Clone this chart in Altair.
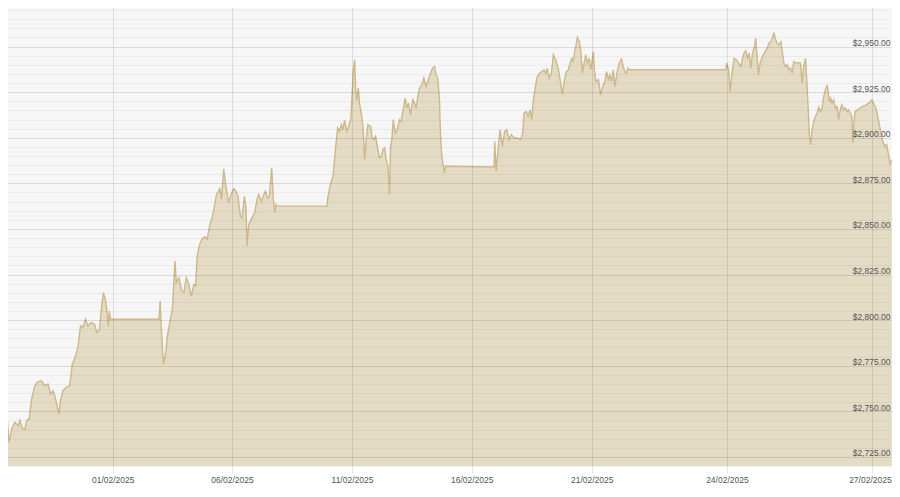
import altair as alt
import pandas as pd

# ---- data (gold price, USD/oz), times in UTC ----
times = [
    # Jan 27
    "2025-01-27T09:40", "2025-01-27T11:40", "2025-01-27T13:25", "2025-01-27T15:40", "2025-01-27T18:25", "2025-01-27T21:40",
    # Jan 28
    "2025-01-28T01:00", "2025-01-28T02:40", "2025-01-28T05:00", "2025-01-28T07:40", "2025-01-28T09:25", "2025-01-28T12:00",
    "2025-01-28T14:25", "2025-01-28T17:40", "2025-01-28T20:00",
    # Jan 29
    "2025-01-29T00:25", "2025-01-29T03:40", "2025-01-29T07:00", "2025-01-29T09:25", "2025-01-29T12:00", "2025-01-29T13:40",
    "2025-01-29T16:00", "2025-01-29T18:00", "2025-01-29T19:25", "2025-01-29T22:00",
    # Jan 30
    "2025-01-30T01:25", "2025-01-30T04:40", "2025-01-30T07:25", "2025-01-30T09:40", "2025-01-30T13:00", "2025-01-30T15:40",
    "2025-01-30T18:00", "2025-01-30T20:40", "2025-01-30T23:00",
    # Jan 31
    "2025-01-31T02:25", "2025-01-31T05:40", "2025-01-31T08:00", "2025-01-31T10:40", "2025-01-31T12:25", "2025-01-31T14:40",
    "2025-01-31T16:40", "2025-01-31T18:00", "2025-01-31T19:40", "2025-01-31T20:40", "2025-01-31T21:40",
    # Feb 2
    "2025-02-02T22:40", "2025-02-02T23:40",
    # Feb 3
    "2025-02-03T01:00", "2025-02-03T03:00", "2025-02-03T05:25", "2025-02-03T07:00", "2025-02-03T09:25", "2025-02-03T12:00",
    "2025-02-03T14:40", "2025-02-03T16:00", "2025-02-03T18:40", "2025-02-03T21:25", "2025-02-03T23:40",
    # Feb 4
    "2025-02-04T02:00", "2025-02-04T04:40", "2025-02-04T07:00", "2025-02-04T09:40", "2025-02-04T11:25", "2025-02-04T13:00",
    "2025-02-04T15:25", "2025-02-04T18:00", "2025-02-04T20:40", "2025-02-04T23:00",
    # Feb 5
    "2025-02-05T01:25", "2025-02-05T04:00", "2025-02-05T06:00", "2025-02-05T08:25", "2025-02-05T10:40", "2025-02-05T11:40",
    "2025-02-05T13:25", "2025-02-05T15:40", "2025-02-05T17:25", "2025-02-05T19:00", "2025-02-05T20:40", "2025-02-05T23:00",
    # Feb 6
    "2025-02-06T01:40", "2025-02-06T04:00", "2025-02-06T06:00", "2025-02-06T08:25", "2025-02-06T10:00", "2025-02-06T12:25",
    "2025-02-06T14:00", "2025-02-06T15:00", "2025-02-06T16:40", "2025-02-06T20:00", "2025-02-06T22:40",
    # Feb 7
    "2025-02-07T01:00", "2025-02-07T02:40", "2025-02-07T05:25", "2025-02-07T07:00", "2025-02-07T09:25", "2025-02-07T11:40",
    "2025-02-07T13:25", "2025-02-07T15:40", "2025-02-07T17:25", "2025-02-07T18:40", "2025-02-07T20:00", "2025-02-07T21:00",
    # Feb 9
    "2025-02-09T23:00",
    # Feb 10
    "2025-02-10T00:00", "2025-02-10T02:25", "2025-02-10T05:00", "2025-02-10T07:25", "2025-02-10T09:40", "2025-02-10T11:25",
    "2025-02-10T13:25", "2025-02-10T14:40", "2025-02-10T16:40", "2025-02-10T18:40", "2025-02-10T20:40", "2025-02-10T23:00",
    # Feb 11
    "2025-02-11T00:00", "2025-02-11T01:20", "2025-02-11T02:40", "2025-02-11T03:40", "2025-02-11T05:00", "2025-02-11T06:20",
    "2025-02-11T07:40", "2025-02-11T09:20", "2025-02-11T11:00", "2025-02-11T12:40", "2025-02-11T14:20", "2025-02-11T16:00",
    "2025-02-11T18:40", "2025-02-11T20:20", "2025-02-11T22:00", "2025-02-11T23:40",
    # Feb 12
    "2025-02-12T01:20", "2025-02-12T03:40", "2025-02-12T05:20", "2025-02-12T07:00", "2025-02-12T08:40", "2025-02-12T10:20",
    "2025-02-12T12:00", "2025-02-12T13:40", "2025-02-12T14:40", "2025-02-12T16:00", "2025-02-12T17:20", "2025-02-12T19:20",
    "2025-02-12T21:20", "2025-02-12T23:40",
    # Feb 13
    "2025-02-13T01:20", "2025-02-13T03:00", "2025-02-13T05:20", "2025-02-13T07:00", "2025-02-13T08:40", "2025-02-13T10:40",
    "2025-02-13T13:00", "2025-02-13T14:40", "2025-02-13T16:20", "2025-02-13T18:00", "2025-02-13T19:40", "2025-02-13T22:00",
    # Feb 14
    "2025-02-14T00:00", "2025-02-14T02:20", "2025-02-14T04:00", "2025-02-14T05:40", "2025-02-14T07:20", "2025-02-14T09:00",
    "2025-02-14T10:40", "2025-02-14T12:20", "2025-02-14T14:00", "2025-02-14T15:40", "2025-02-14T16:40", "2025-02-14T18:00",
    "2025-02-14T19:20", "2025-02-14T20:40", "2025-02-14T21:40",
    # Feb 16
    "2025-02-16T22:25", "2025-02-16T23:00",
    # Feb 17
    "2025-02-17T00:25", "2025-02-17T02:40", "2025-02-17T04:25", "2025-02-17T06:40", "2025-02-17T09:00", "2025-02-17T11:00",
    "2025-02-17T13:25", "2025-02-17T15:40", "2025-02-17T18:25", "2025-02-17T21:40",
    # Feb 18
    "2025-02-18T01:00", "2025-02-18T03:00", "2025-02-18T04:25", "2025-02-18T06:40", "2025-02-18T08:25", "2025-02-18T10:25",
    "2025-02-18T12:00", "2025-02-18T13:40", "2025-02-18T16:00", "2025-02-18T17:40", "2025-02-18T20:00", "2025-02-18T22:00",
    # Feb 19
    "2025-02-19T00:25", "2025-02-19T02:00", "2025-02-19T03:40", "2025-02-19T05:25", "2025-02-19T07:40", "2025-02-19T09:40",
    "2025-02-19T12:00", "2025-02-19T14:25", "2025-02-19T16:25", "2025-02-19T18:40", "2025-02-19T20:25", "2025-02-19T22:40",
    # Feb 20
    "2025-02-20T00:40", "2025-02-20T02:25", "2025-02-20T04:00", "2025-02-20T05:40", "2025-02-20T07:00", "2025-02-20T08:25",
    "2025-02-20T09:40", "2025-02-20T11:40", "2025-02-20T13:00", "2025-02-20T14:40", "2025-02-20T16:25", "2025-02-20T18:00",
    "2025-02-20T19:40", "2025-02-20T21:25", "2025-02-20T23:00",
    # Feb 21
    "2025-02-21T00:00", "2025-02-21T00:55", "2025-02-21T01:25", "2025-02-21T02:15", "2025-02-21T03:35", "2025-02-21T04:45",
    "2025-02-21T05:50", "2025-02-21T07:00", "2025-02-21T07:55", "2025-02-21T08:50", "2025-02-21T09:40", "2025-02-21T10:35",
    "2025-02-21T11:30", "2025-02-21T12:20", "2025-02-21T13:35", "2025-02-21T14:40", "2025-02-21T15:55", "2025-02-21T16:45",
    "2025-02-21T17:40", "2025-02-21T18:30", "2025-02-21T19:15", "2025-02-21T19:50",
    # Feb 23
    "2025-02-23T23:30", "2025-02-23T23:50",
    # Feb 24
    "2025-02-24T00:50", "2025-02-24T01:35", "2025-02-24T02:30", "2025-02-24T03:35", "2025-02-24T04:45", "2025-02-24T05:45",
    "2025-02-24T06:55", "2025-02-24T07:45", "2025-02-24T08:30", "2025-02-24T09:20", "2025-02-24T10:10", "2025-02-24T11:00",
    "2025-02-24T11:50", "2025-02-24T12:40", "2025-02-24T13:40", "2025-02-24T14:15", "2025-02-24T14:45", "2025-02-24T15:35",
    "2025-02-24T16:25", "2025-02-24T17:35", "2025-02-24T18:50", "2025-02-24T20:00", "2025-02-24T20:50", "2025-02-24T21:40",
    "2025-02-24T22:30", "2025-02-24T23:15",
    # Feb 25
    "2025-02-25T00:05", "2025-02-25T00:55", "2025-02-25T01:45", "2025-02-25T02:45", "2025-02-25T03:25", "2025-02-25T04:10",
    "2025-02-25T05:00", "2025-02-25T05:50", "2025-02-25T06:40", "2025-02-25T07:30", "2025-02-25T08:20", "2025-02-25T09:05",
    "2025-02-25T10:00", "2025-02-25T11:15", "2025-02-25T12:25", "2025-02-25T13:15", "2025-02-25T14:00", "2025-02-25T14:55",
    "2025-02-25T15:30", "2025-02-25T16:15", "2025-02-25T16:50", "2025-02-25T17:30", "2025-02-25T18:10", "2025-02-25T19:00",
    "2025-02-25T19:50", "2025-02-25T20:40", "2025-02-25T21:25", "2025-02-25T22:15", "2025-02-25T23:05", "2025-02-25T23:55",
    # Feb 26
    "2025-02-26T00:45", "2025-02-26T01:35", "2025-02-26T02:05", "2025-02-26T02:40", "2025-02-26T03:20", "2025-02-26T04:00",
    "2025-02-26T04:50", "2025-02-26T05:40", "2025-02-26T06:30", "2025-02-26T07:15", "2025-02-26T08:05", "2025-02-26T08:55",
    "2025-02-26T09:45", "2025-02-26T10:35", "2025-02-26T11:25", "2025-02-26T12:10", "2025-02-26T13:00", "2025-02-26T13:50",
    "2025-02-26T14:20", "2025-02-26T15:00", "2025-02-26T15:30", "2025-02-26T16:50", "2025-02-26T17:55", "2025-02-26T19:15",
    "2025-02-26T20:25", "2025-02-26T21:45", "2025-02-26T22:50", "2025-02-26T23:40",
    # Feb 27
    "2025-02-27T00:30", "2025-02-27T01:20", "2025-02-27T02:10", "2025-02-27T02:55", "2025-02-27T03:45", "2025-02-27T04:40",
    "2025-02-27T05:25", "2025-02-27T06:15", "2025-02-27T07:05", "2025-02-27T07:50", "2025-02-27T08:45", "2025-02-27T09:35",
]

prices = [
    # Jan 27
    2771.3, 2762.0, 2749.5, 2733.0, 2740.3, 2744.0,
    # Jan 28
    2742.0, 2745.0, 2741.0, 2740.0, 2745.0, 2745.8, 2756.7, 2764.0, 2765.9,
    # Jan 29
    2766.7, 2764.0, 2765.0, 2759.5, 2761.3, 2758.5, 2753.4, 2748.5, 2755.8, 2761.3,
    # Jan 30
    2763.2, 2764.0, 2775.9, 2778.6, 2785.0, 2796.8, 2796.0, 2800.5, 2796.8,
    # Jan 31
    2798.7, 2797.8, 2793.2, 2795.0, 2805.0, 2815.0, 2811.4, 2806.0, 2796.8, 2805.0, 2800.5,
    # Feb 2
    2800.5, 2810.5,
    # Feb 3
    2795.0, 2775.9, 2782.3, 2791.4, 2798.7, 2806.0, 2832.4, 2820.6, 2823.3, 2816.0, 2815.5,
    # Feb 4
    2823.3, 2819.6, 2813.2, 2819.6, 2818.7, 2835.1, 2841.5, 2844.6, 2845.7, 2844.3,
    # Feb 5
    2851.5, 2856.1, 2861.6, 2868.9, 2870.7, 2872.5, 2866.2, 2882.9, 2875.3, 2869.8, 2864.3, 2868.9,
    # Feb 6
    2872.0, 2870.7, 2867.9, 2857.0, 2856.1, 2867.9, 2861.6, 2840.6, 2852.5, 2856.1, 2858.9,
    # Feb 7
    2866.2, 2868.9, 2865.2, 2867.9, 2870.7, 2867.0, 2867.9, 2883.5, 2866.2, 2858.9, 2863.4, 2862.5,
    # Feb 9
    2862.5,
    # Feb 10
    2867.9, 2874.3, 2878.9, 2893.5, 2905.4, 2903.5, 2907.2, 2904.4, 2909.5, 2903.5, 2906.2, 2910.8,
    # Feb 11
    2922.6, 2937.3, 2942.7, 2926.3, 2920.8, 2927.2, 2918.1, 2913.6, 2906.2, 2888.0, 2899.9, 2907.2,
    2906.2, 2899.9, 2899.0, 2900.8,
    # Feb 12
    2895.3, 2888.9, 2889.8, 2893.5, 2894.4, 2888.0, 2884.4, 2868.9, 2895.3, 2899.0, 2909.9, 2902.6,
    2904.4, 2909.9,
    # Feb 13
    2909.0, 2914.4, 2921.8, 2916.3, 2919.0, 2912.6, 2920.8, 2919.0, 2916.3, 2922.6, 2927.2, 2929.0,
    # Feb 14
    2932.7, 2928.1, 2930.9, 2933.6, 2936.3, 2938.2, 2939.1, 2934.5, 2932.7, 2920.8, 2902.6, 2889.8,
    2885.3, 2880.7, 2884.4,
    # Feb 16
    2884.0, 2898.1,
    # Feb 17
    2881.6, 2895.3, 2904.4, 2895.3, 2903.5, 2904.4, 2899.0, 2901.7, 2899.9, 2899.9,
    # Feb 18
    2899.0, 2902.6, 2913.6, 2914.4, 2911.7, 2915.3, 2909.9, 2920.8, 2929.0, 2933.6, 2935.4, 2936.3,
    # Feb 19
    2937.3, 2935.4, 2938.2, 2932.7, 2935.4, 2945.5, 2942.7, 2938.2, 2931.8, 2923.6, 2930.9, 2936.3,
    # Feb 20
    2937.3, 2940.9, 2943.6, 2941.8, 2947.3, 2950.9, 2955.1, 2952.7, 2948.2, 2935.4, 2940.9, 2945.5,
    2940.9, 2943.6, 2937.3,
    # Feb 21
    2940.9, 2947.3, 2937.3, 2930.9, 2931.8, 2923.6, 2928.1, 2930.9, 2936.3, 2931.8, 2934.5, 2930.9,
    2937.3, 2928.1, 2936.3, 2940.9, 2943.1, 2939.1, 2936.3, 2935.4, 2938.2, 2937.3,
    # Feb 23
    2937.3, 2940.9,
    # Feb 24
    2937.3, 2925.4, 2935.4, 2943.6, 2942.7, 2940.9, 2939.1, 2943.6, 2946.4, 2947.6, 2943.6, 2946.4,
    2938.2, 2946.4, 2950.0, 2954.6, 2947.3, 2934.5, 2940.9, 2944.5, 2947.3, 2949.1, 2951.9, 2952.7,
    2954.6, 2957.7,
    # Feb 25
    2953.7, 2951.9, 2950.9, 2952.7, 2947.3, 2940.9, 2939.1, 2940.0, 2937.3, 2938.2, 2935.4, 2941.8,
    2940.9, 2941.2, 2940.9, 2930.0, 2939.1, 2943.6, 2931.8, 2915.4, 2900.8, 2896.2, 2904.4, 2909.0,
    2911.7, 2913.6, 2916.8, 2914.4, 2916.3, 2922.6,
    # Feb 26
    2926.3, 2929.0, 2925.4, 2919.9, 2921.8, 2919.0, 2920.8, 2916.3, 2917.2, 2909.9, 2915.4, 2918.1,
    2915.4, 2916.3, 2914.4, 2915.4, 2913.6, 2911.7, 2897.2, 2909.9, 2914.4, 2915.4, 2916.3, 2917.2,
    2917.6, 2918.7, 2919.4, 2920.8,
    # Feb 27
    2919.0, 2917.2, 2914.4, 2909.9, 2905.4, 2899.9, 2897.2, 2895.3, 2896.2, 2891.7, 2885.3, 2888.0,
]

# x-axis tick dates
tick_dates = ["2025-02-01", "2025-02-06", "2025-02-11", "2025-02-16", "2025-02-21", "2025-02-24", "2025-02-27"]
x_start, x_end = "2025-01-27T09:40", "2025-02-27T09:42"
# y-axis: grid every $5, labels every $25
y_min, y_max = 2720, 2975
y_grid_values = list(range(y_min, y_max + 1, 5))

assert len(times) == len(prices)


def utc_ms(s):
    return int(pd.Timestamp(s, tz="UTC").value // 10**6)


df = pd.DataFrame({"time": times, "price": prices})

tick_ms = [utc_ms(d) for d in tick_dates]
domain_knots = [utc_ms(x_start)] + tick_ms + [utc_ms(x_end)]
# piecewise horizontal scale (the source chart is not uniform in time)
PLOT_W, PLOT_H = 890, 465
range_knots = [1, 110.7, 230.0, 350.0, 469.7, 589.7, 724.9, 870.4, PLOT_W]

FONT = "Liberation Sans"

chart = (
    alt.Chart(df)
    .transform_calculate(t="time(toDate(datum.time + ':00Z'))")
    .mark_area(
        color="#e4dbc5",
        opacity=1,
        line={"color": "#cdb98b", "strokeWidth": 1.4},
        interpolate="linear",
        clip=True,
    )
    .encode(
        x=alt.X(
            "t:Q",
            scale=alt.Scale(domain=domain_knots, range=range_knots, nice=False, zero=False),
            axis=alt.Axis(
                values=tick_ms,
                labelExpr="utcFormat(datum.value, '%d/%m/%Y')",
                title=None,
                grid=True,
                gridColor="rgba(0,0,0,0.10)",
                tickColor="rgba(0,0,0,0.10)",
                tickSize=7,
                domain=False,
                labelFont=FONT,
                labelFontSize=8.5,
                labelColor="#555555",
                labelPadding=2,
                labelOffset={
                    "condition": {"test": f"datum.value >= {tick_ms[-1]}", "value": -2.5},
                    "value": 0,
                },
                labelOverlap=False,
                labelFlush=False,
                zindex=1,
            ),
        ),
        y=alt.Y(
            "price:Q",
            scale=alt.Scale(domain=[y_min, y_max], zero=False, nice=False),
            axis=alt.Axis(
                orient="right",
                values=y_grid_values,
                title=None,
                grid=True,
                gridColor={
                    "condition": {"test": "datum.value % 25 === 0", "value": "rgba(0,0,0,0.11)"},
                    "value": "rgba(0,0,0,0.045)",
                },
                ticks=False,
                tickSize=0,
                domain=False,
                labelAlign="right",
                labelBaseline="alphabetic",
                labelPadding=-2,
                labelOffset=-1,
                labelExpr="(datum.value % 25 === 0 && datum.value > 2720 && datum.value < 2975) ? format(datum.value, '$,.2f') : ''",
                labelFont=FONT,
                labelFontSize=8.5,
                labelColor="#555555",
                labelOverlap=False,
                labelFlush=False,
                zindex=1,
            ),
        ),
    )
    .properties(
        width=PLOT_W,
        height=PLOT_H,
        padding={"left": -6, "top": -7, "right": 0, "bottom": 18},
        autosize=alt.AutoSizeParams(type="none"),
    )
    .configure_view(fill="#f6f6f6", stroke=None)
)

chart.save("out.html", embed_options={"renderer": "svg", "actions": False})
